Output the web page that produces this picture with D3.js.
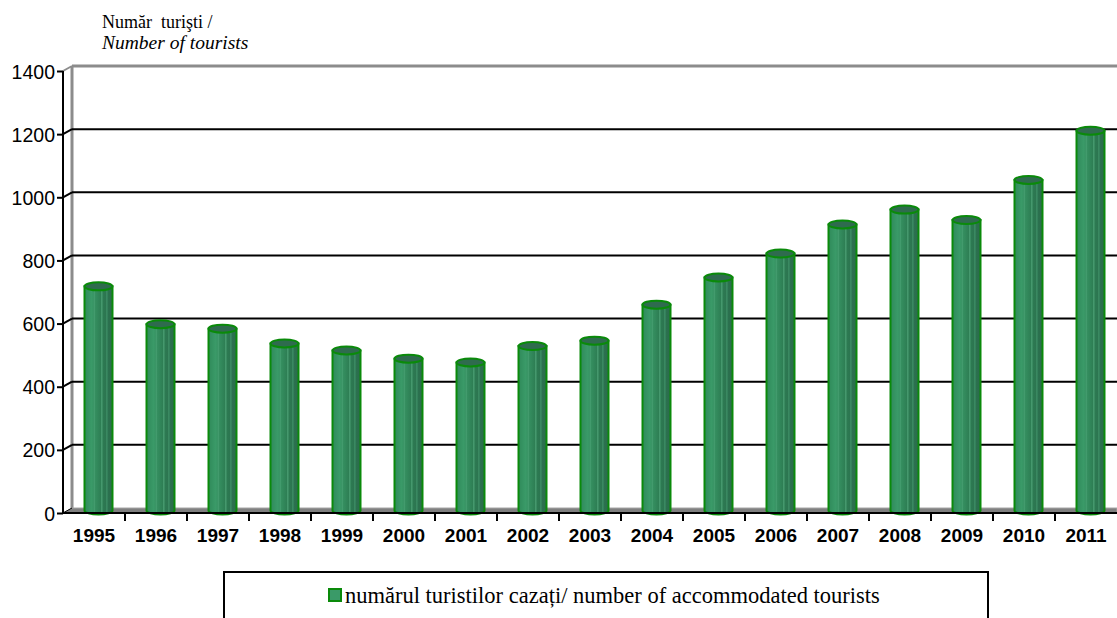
<!DOCTYPE html>
<meta charset="utf-8">
<style>
body { margin: 0; background: #fff; }
.yaxis text { font-family: "Liberation Sans", Arial, sans-serif; font-size: 19.5px; }
.xaxis text { font-family: "Liberation Sans", Arial, sans-serif; font-size: 19px; font-weight: bold; }
</style>
<svg width="1117" height="618"></svg>
<script src="https://cdnjs.cloudflare.com/ajax/libs/d3/7.8.5/d3.min.js"></script>
<script>

var years = ["1995","1996","1997","1998","1999","2000","2001","2002","2003","2004","2005","2006","2007","2008","2009","2010","2011"];
var tourists = [710, 590, 576, 529, 507, 481, 469, 521, 538, 652, 738, 814, 906, 953, 920, 1047, 1203];
var yTicks = [0, 200, 400, 600, 800, 1000, 1200, 1400];

var svg = d3.select("svg"), width = +svg.attr("width"), height = +svg.attr("height");
var dx = 9, dy = -5; // depth of the 3d box

var x = d3.scaleBand().domain(years).range([63, 1117]);
var y = d3.scaleLinear().domain([0, 1400]).range([513, 71]); // front plane

// gradients for the cylinders
var defs = svg.append("defs");
var gr = defs.append("linearGradient").attr("id", "cyl").attr("x1", 0).attr("x2", 1).attr("y1", 0).attr("y2", 0);
gr.append("stop").attr("offset", "0%").attr("stop-color", "#2f8a5a");
gr.append("stop").attr("offset", "25%").attr("stop-color", "#3a9a68");
gr.append("stop").attr("offset", "60%").attr("stop-color", "#2d7d53");
gr.append("stop").attr("offset", "100%").attr("stop-color", "#2b6a4c");

// back wall edges
svg.append("line").attr("x1", 63 + dx).attr("x2", 63 + dx).attr("y1", y(1400) + dy).attr("y2", y(0) + dy)
    .attr("stroke", "#8c8c8c").attr("stroke-width", 3);
svg.append("line").attr("x1", 63 + dx).attr("x2", width).attr("y1", y(1400) + dy).attr("y2", y(1400) + dy)
    .attr("stroke", "#8c8c8c").attr("stroke-width", 3);

// gridlines on the back wall
svg.append("g").selectAll("line").data(yTicks.filter(function(d){ return d > 0 && d < 1400; }))
  .enter().append("line")
    .attr("x1", 63 + dx).attr("x2", width)
    .attr("y1", function(d){ return y(d) + dy; }).attr("y2", function(d){ return y(d) + dy; })
    .attr("stroke", "#000").attr("stroke-width", 2);

// floor
svg.append("path")
    .attr("d", "M63," + y(0) + "L" + (63 + dx) + "," + (y(0) + dy) + "L" + width + "," + (y(0) + dy) + "L" + width + "," + y(0) + "Z")
    .attr("fill", "#7f7f7f").attr("stroke", "#a6a6a6").attr("stroke-width", 1);

// diagonals from front ticks to back wall
svg.append("g").selectAll("line").data(yTicks)
  .enter().append("line")
    .attr("x1", 63).attr("x2", 63 + dx)
    .attr("y1", function(d){ return y(d); }).attr("y2", function(d){ return y(d) + dy; })
    .attr("stroke", function(d){ return d == 1400 ? "#8c8c8c" : "#000"; }).attr("stroke-width", function(d){ return d == 0 ? 1 : 2; });

// cylinders
var bw = 28, ry = 4;
var bars = svg.append("g").selectAll("g").data(years)
  .enter().append("g")
    .attr("transform", function(d){ return "translate(" + (x(d) + x.bandwidth() / 2 + dx / 2 - bw / 2) + ",0)"; });

bars.append("path")
    .attr("d", function(d, i) {
        var top = y(tourists[i]) + dy / 2, bot = y(0) + dy / 2;
        return "M0," + top + "L0," + bot + "A" + (bw / 2) + "," + ry + " 0 0 0 " + bw + "," + bot + "L" + bw + "," + top + "Z";
    })
    .attr("fill", "url(#cyl)").attr("stroke", "#0a8a0a").attr("stroke-width", 2);

// highlight streaks
[0.35, 0.62, 0.8].forEach(function(f, k) {
  bars.append("line")
      .attr("x1", bw * f).attr("x2", bw * f)
      .attr("y1", function(d, i){ return y(tourists[i]) + dy / 2 + ry; })
      .attr("y2", function(d, i){ return y(0) + dy / 2 + ry - 1; })
      .attr("stroke", k == 1 ? "#5fb387" : "#4aa275").attr("stroke-width", 1).attr("opacity", 0.8);
});

bars.append("ellipse")
    .attr("cx", bw / 2).attr("cy", function(d, i){ return y(tourists[i]) + dy / 2; })
    .attr("rx", bw / 2).attr("ry", ry)
    .attr("fill", "#2f6b4e").attr("stroke", "#0a8a0a").attr("stroke-width", 2);

// y axis (front)
svg.append("g").attr("class", "yaxis").attr("transform", "translate(63,0)")
    .call(d3.axisLeft(y).tickValues(yTicks).tickSize(6).tickPadding(2).tickFormat(d3.format("d")))
    .call(function(g){ g.selectAll("line, path").attr("stroke", "#000").attr("stroke-width", 2); g.select(".domain").attr("d", "M0," + y(1400) + "V" + (y(0) + 1)); g.selectAll("text").attr("dy", "0.36em"); });

// x axis
svg.append("g").attr("class", "xaxis").attr("transform", "translate(0," + y(0) + ")")
    .call(d3.axisBottom(x).tickSize(0).tickPadding(16))
    .call(function(g){ g.select(".domain").attr("d", "M63,0H" + width).attr("stroke", "#000").attr("stroke-width", 2); g.selectAll("text").attr("fill", "#000"); });

svg.append("g").selectAll("line").data(years.slice(1))
  .enter().append("line")
    .attr("x1", function(d){ return x(d); }).attr("x2", function(d){ return x(d); })
    .attr("y1", y(0)).attr("y2", y(0) + 8)
    .attr("stroke", "#000").attr("stroke-width", 2);

// axis title
var title = svg.append("text").attr("x", 102).attr("font-family", "'Liberation Serif', 'Times New Roman', serif");
title.append("tspan").attr("x", 102).attr("y", 28).attr("font-size", 18).attr("xml:space", "preserve").text("Număr  turişti /");
title.append("tspan").attr("x", 102).attr("y", 49).attr("font-size", 19.5).attr("font-style", "italic").text("Number of tourists");

// legend
svg.append("rect").attr("x", 224).attr("y", 572).attr("width", 764).attr("height", 60)
    .attr("fill", "none").attr("stroke", "#000").attr("stroke-width", 2);
svg.append("rect").attr("x", 329).attr("y", 589).attr("width", 12).attr("height", 12)
    .attr("fill", "#3a9a68").attr("stroke", "#0a8a0a").attr("stroke-width", 2);
svg.append("text").attr("x", 345).attr("y", 603)
    .attr("font-family", "'Liberation Serif', 'Times New Roman', serif").attr("font-size", 22.5)
    .text("numărul turistilor cazați/ number of accommodated tourists");

</script>
